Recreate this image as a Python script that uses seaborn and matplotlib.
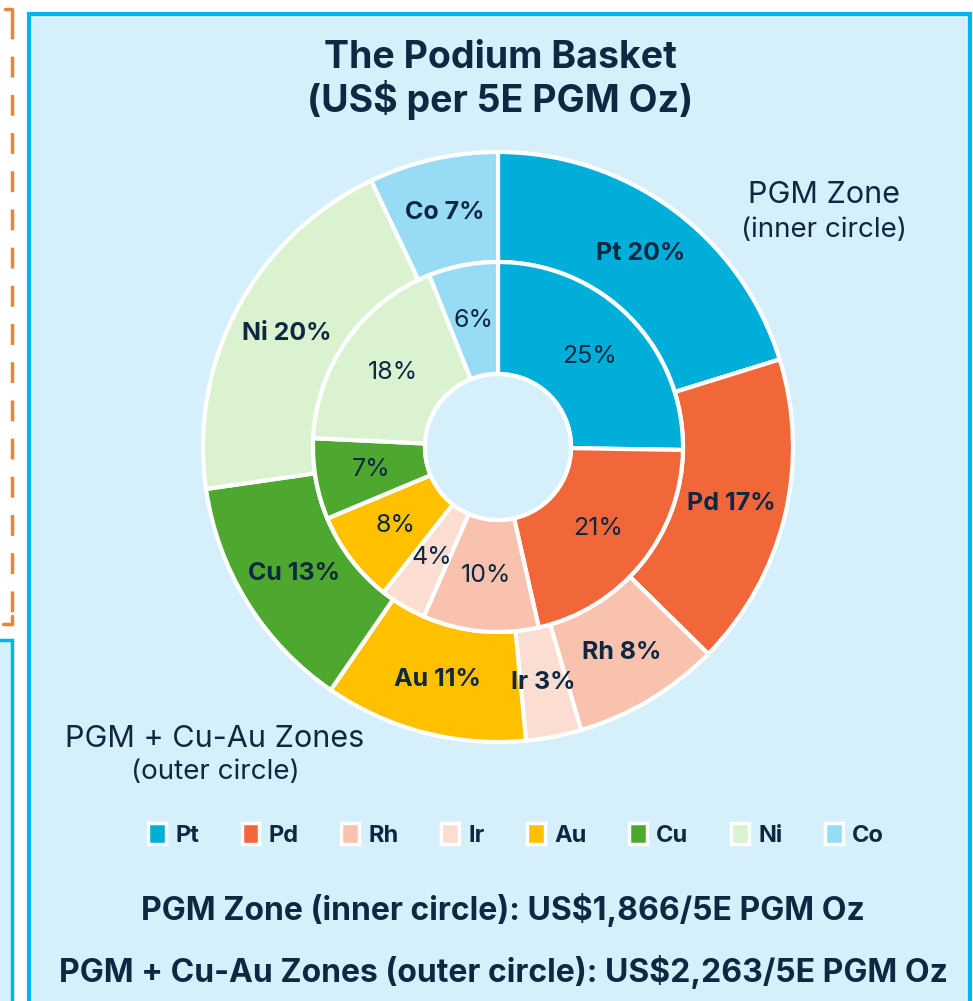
import numpy as np
import seaborn as sns
from matplotlib import pyplot as plt
from matplotlib.patches import Rectangle, Patch
from matplotlib.lines import Line2D

# data
metals = ['Pt', 'Pd', 'Rh', 'Ir', 'Au', 'Cu', 'Ni', 'Co']
inner_pct = [25, 21, 10, 4, 8, 7, 18, 6]      # PGM zone
outer_pct = [20, 17, 8, 3, 11, 13, 20, 7]     # PGM + Cu-Au zones
colors = ['#00AEDA', '#F2673A', '#F9C2AE', '#FBDDD1',
          '#FFC000', '#4EA72E', '#DAF2D0', '#97DBF5']

title = 'The Podium Basket\n(US$ per 5E PGM Oz)'
footer_inner = 'PGM Zone (inner circle): US$1,866/5E PGM Oz'
footer_outer = 'PGM + Cu-Au Zones (outer circle): US$2,263/5E PGM Oz'

W, H = 973, 1001
navy = '#0E2841'
panel_bg = '#D5F0FB'
panel_edge = '#00B4F0'

sns.set_theme(style='white')
plt.rcParams['font.family'] = ['Inter', 'DejaVu Sans']
palette = sns.color_palette(colors)


def fx(px):
    return px / W


def fy(py):
    return 1 - py / H


fig = plt.figure(figsize=(W / 100, H / 100), dpi=100, facecolor='white')

# background panel and side decorations
fig.patches.append(Rectangle((fx(29), -0.05), fx(970) - fx(29), fy(14) + 0.05,
                             transform=fig.transFigure, facecolor=panel_bg,
                             edgecolor=panel_edge, lw=3, zorder=-2))
fig.patches.append(Rectangle((-0.02, -0.05), fx(12) + 0.02, fy(640) + 0.05,
                             transform=fig.transFigure, facecolor=panel_bg,
                             edgecolor=panel_edge, lw=2.5, zorder=-2))
orange = '#F0832F'
fig.lines.append(Line2D([fx(12), fx(12)], [fy(18), fy(616)], transform=fig.transFigure,
                        color=orange, lw=2.5, dashes=(6, 5), zorder=-1))
fig.lines.append(Line2D([fx(5), fx(12), fx(12)], [fy(9), fy(9), fy(17)],
                        transform=fig.transFigure, color=orange, lw=2.5, zorder=-1))
fig.lines.append(Line2D([fx(12), fx(12), fx(3)], [fy(616), fy(624), fy(624)],
                        transform=fig.transFigure, color=orange, lw=2.5, zorder=-1))

# donut axes: centre (498, 447), outer radius 295 px
cx, cy, R = 498, 447, 295
ax = fig.add_axes([fx(cx - R), fy(cy + R), 2 * R / W, 2 * R / H])
ax.set_facecolor('none')

r_mid = 185 / R
r_hole = 73 / R
wedge_kw = dict(edgecolor='white', linewidth=3)

outer, _ = ax.pie(outer_pct, radius=1, colors=palette, startangle=90, counterclock=False,
                  wedgeprops=dict(width=1 - r_mid, **wedge_kw))
inner, _ = ax.pie(inner_pct, radius=r_mid, colors=palette, startangle=90, counterclock=False,
                  wedgeprops=dict(width=r_mid - r_hole, **wedge_kw))
ax.add_patch(plt.Circle((0, 0), r_hole, facecolor=panel_bg, edgecolor='white', lw=3, zorder=5))
ax.set_xlim(-1, 1)
ax.set_ylim(-1, 1)
ax.axis('off')

for w, name, v in zip(outer, metals, outer_pct):
    a = np.deg2rad((w.theta1 + w.theta2) / 2)
    r = (1 + r_mid) / 2
    ax.text(r * np.cos(a), r * np.sin(a), f'{name} {v}%', ha='center', va='center',
            fontsize=18, fontweight='bold', color=navy, zorder=6)

for w, v in zip(inner, inner_pct):
    a = np.deg2rad((w.theta1 + w.theta2) / 2)
    r = (r_mid + r_hole) / 2
    ax.text(r * np.cos(a), r * np.sin(a), f'{v}%', ha='center', va='center',
            fontsize=18, color=navy, zorder=6)

# titles and notes
fig.text(fx(500), fy(80), title, ha='center', va='center', fontsize=27,
         fontweight='bold', color=navy, linespacing=1.15)
fig.text(fx(824), fy(195), 'PGM Zone', ha='center', va='center', fontsize=22, color=navy)
fig.text(fx(824), fy(230), '(inner circle)', ha='center', va='center', fontsize=20, color=navy)
fig.text(fx(215), fy(739), 'PGM + Cu-Au Zones', ha='center', va='center', fontsize=22, color=navy)
fig.text(fx(215), fy(772), '(outer circle)', ha='center', va='center', fontsize=20, color=navy)

handles = [Patch(facecolor=c, edgecolor='white', lw=2.5) for c in palette]
leg = fig.legend(handles, metals, loc='center', bbox_to_anchor=(fx(516), fy(835)),
                 ncol=8, frameon=False, handlelength=0.75, handleheight=0.95,
                 handletextpad=0.4, columnspacing=1.8,
                 prop=dict(size=17, weight='bold'))
for t in leg.get_texts():
    t.set_color(navy)

fig.text(fx(503), fy(910), footer_inner, ha='center', va='center', fontsize=23,
         fontweight='bold', color=navy)
fig.text(fx(503), fy(972), footer_outer, ha='center', va='center', fontsize=23,
         fontweight='bold', color=navy)

fig.savefig('out.png', dpi=100, facecolor='white')
